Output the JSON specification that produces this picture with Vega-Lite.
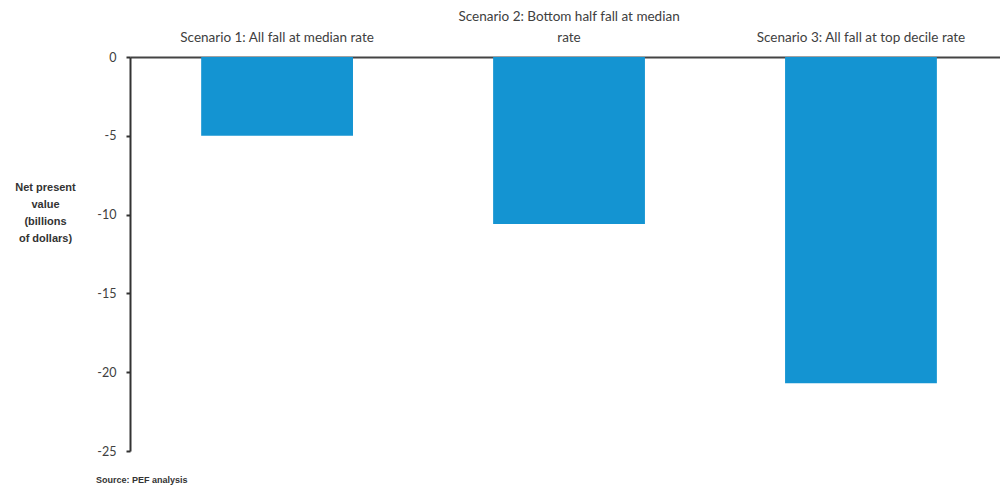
{
  "$schema": "https://vega.github.io/schema/vega-lite/v6.json",
  "autosize": {"type": "none"},
  "padding": {"left": 130, "top": 57, "right": 0, "bottom": 38},
  "width": 870,
  "height": 394,
  "background": "white",
  "config": {"view": {"stroke": null}, "font": "Lato"},
  "title": {
    "text": "Source: PEF analysis",
    "orient": "bottom",
    "anchor": "start",
    "frame": "group",
    "dx": -34,
    "offset": 18,
    "baseline": "top",
    "fontSize": 9,
    "fontWeight": "bold",
    "color": "#333333",
    "font": "Liberation Sans"
  },
  "data": {
    "values": [
      {"scenario": "Scenario 1: All fall at median rate", "npv": -5.0},
      {"scenario": "Scenario 2: Bottom half fall at median rate", "npv": -10.6},
      {"scenario": "Scenario 3: All fall at top decile rate", "npv": -20.7}
    ]
  },
  "mark": {"type": "bar", "color": "#1494d2"},
  "encoding": {
    "x": {
      "field": "scenario",
      "type": "nominal",
      "sort": null,
      "scale": {"paddingInner": 0.48, "paddingOuter": 0.23, "align": 0.53},
      "axis": {
        "orient": "top",
        "title": null,
        "ticks": false,
        "labelAngle": 0,
        "labelPadding": {"condition": {"test": "datum.value == 'Scenario 2: Bottom half fall at median rate'", "value": 34}, "value": 13},
        "labelFontSize": 13.5,
        "labelColor": "#404040",
        "labelLineHeight": 21,
        "labelLimit": 400,
        "labelExpr": "datum.value == 'Scenario 2: Bottom half fall at median rate' ? ['Scenario 2: Bottom half fall at median', 'rate'] : datum.value",
        "domainColor": "#444444",
        "domainWidth": 2
      }
    },
    "y": {
      "field": "npv",
      "type": "quantitative",
      "scale": {"domain": [-25, 0], "nice": false},
      "axis": {
        "values": [0, -5, -10, -15, -20, -25],
        "labelExpr": "datum.value == 0 ? '0' : '-' + abs(datum.value)",
        "grid": false,
        "domainColor": "#333333",
        "domainWidth": 2,
        "tickColor": "#333333",
        "tickWidth": 2,
        "tickSize": 4,
        "labelPadding": 10,
        "labelFontSize": 12.5,
        "labelColor": "#404040",
        "title": ["Net present", "value", "(billions", "of dollars)"],
        "titleAngle": 0,
        "titleX": -85,
        "titleY": 133,
        "titleAlign": "center",
        "titleBaseline": "alphabetic",
        "titleFontSize": 11,
        "titleFontWeight": "bold",
        "titleFont": "Liberation Sans",
        "titleColor": "#333333",
        "titleLineHeight": 17
      }
    }
  }
}
